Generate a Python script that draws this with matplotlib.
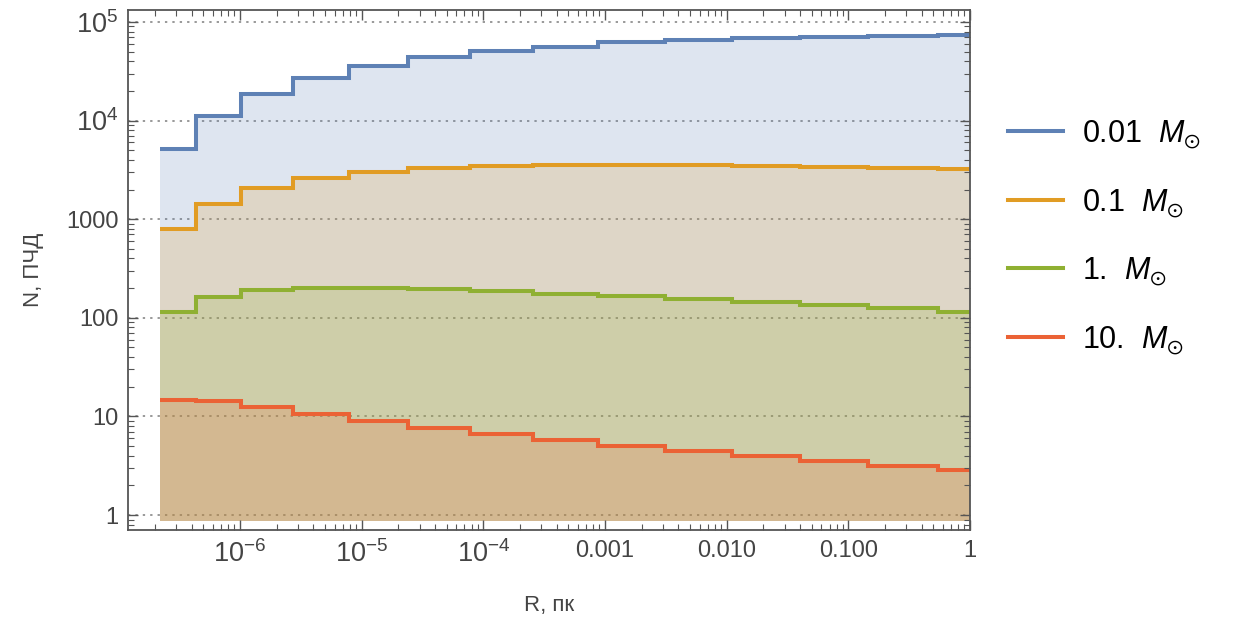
import numpy as np
import matplotlib
matplotlib.use("Agg")
import matplotlib.pyplot as plt
from matplotlib.ticker import LogLocator, FixedLocator, FixedFormatter, NullFormatter
from matplotlib.lines import Line2D

# bin edges (log10 of R, pc)
log_edges = [-6.657, -6.362, -5.994, -5.565, -5.104, -4.62, -4.11, -3.59,
             -3.06, -2.51, -1.96, -1.40, -0.84, -0.26, 0.0]
edges = 10.0 ** np.array(log_edges)

n_001 = [5100, 11000, 18600, 27200, 35800, 43700, 50800, 56300,
         62000, 65700, 68000, 70700, 72000, 74500]
n_01 = [800, 1426, 2090, 2620, 3010, 3280, 3460, 3570,
        3570, 3570, 3490, 3410, 3320, 3200]
n_1 = [115, 164, 193, 202, 202, 196, 188, 175,
       165, 155, 144, 134, 125, 115]
n_10 = [14.8, 14.4, 12.5, 10.6, 9.04, 7.67, 6.63, 5.75,
        5.03, 4.43, 3.94, 3.53, 3.16, 2.86]

series = [n_001, n_01, n_1, n_10]
labels = ["0.01  $M_{\\odot}$", "0.1  $M_{\\odot}$", "1.  $M_{\\odot}$", "10.  $M_{\\odot}$"]
colors = ["#5E81B5", "#E19C24", "#8FB032", "#EB6235"]

xticks = [1e-6, 1e-5, 1e-4, 1e-3, 1e-2, 1e-1, 1]
xticklabels = ["$10^{-6}$", "$10^{-5}$", "$10^{-4}$", "0.001", "0.010", "0.100", "1"]
yticks = [1, 10, 100, 1000, 1e4, 1e5]
yticklabels = ["1", "10", "100", "1000", "$10^{4}$", "$10^{5}$"]

plt.rcParams['font.family'] = ['Liberation Sans', 'DejaVu Sans']
plt.rcParams['mathtext.fontset'] = 'custom'
plt.rcParams['mathtext.rm'] = 'Liberation Sans'
plt.rcParams['mathtext.it'] = 'Liberation Sans:italic'
plt.rcParams['mathtext.fallback'] = 'stixsans'

fig = plt.figure(figsize=(12.43, 6.21), dpi=100)
ax = fig.add_axes([0.103, 0.1465, 0.6774, 0.8375])

base = 0.87
for vals, c in zip(series, colors):
    ax.stairs(vals, edges, baseline=base, fill=True, color=c, alpha=0.2, linewidth=0)

for vals, c, lab in zip(series, colors, labels):
    ax.stairs(vals, edges, baseline=None, color=c, linewidth=2.9, label=lab)

ax.set_xscale("log")
ax.set_yscale("log")
ax.set_xlim(10 ** -6.92, 1.0)
ax.set_ylim(10 ** -0.152, 10 ** 5.122)

for y in yticks:
    ax.axhline(y, color="#999999", linewidth=1.4, linestyle=(0, (1.2, 2.6)), zorder=0.5)

ax.xaxis.set_major_locator(FixedLocator(xticks))
ax.xaxis.set_major_formatter(FixedFormatter(xticklabels))
ax.xaxis.set_minor_locator(LogLocator(base=10, subs=np.arange(2, 10), numticks=20))
ax.xaxis.set_minor_formatter(NullFormatter())
ax.yaxis.set_major_locator(FixedLocator(yticks))
ax.yaxis.set_major_formatter(FixedFormatter(yticklabels))
ax.yaxis.set_minor_locator(LogLocator(base=10, subs=np.arange(2, 10), numticks=20))
ax.yaxis.set_minor_formatter(NullFormatter())

ax.tick_params(which="both", direction="in", top=True, right=True, color="#555555")
ax.tick_params(which="major", length=7, width=1.0, labelsize=17, labelcolor="#444444", pad=7)
ax.tick_params(which="minor", length=4, width=0.8)
for sp in ax.spines.values():
    sp.set_color("#555555")
    sp.set_linewidth(1.3)

# power-of-ten labels are drawn a bit larger in the original
fig.canvas.draw()
for t in ax.get_xticklabels() + ax.get_yticklabels():
    if "$" in t.get_text():
        t.set_fontsize(19.5)

ax.set_xlabel("R, пк", fontsize=16, color="#444444", labelpad=20)
ax.set_ylabel("N, ПЧД", fontsize=16, color="#444444", labelpad=16)

leg_handles = [Line2D([], [], color=c, linewidth=2.9) for c in colors]
ax.legend(leg_handles, labels, loc="center left", bbox_to_anchor=(1.013, 0.563),
          frameon=False, fontsize=22, handlelength=1.8, handletextpad=0.6,
          labelspacing=1.2)

fig.savefig("out.png", dpi=100)
